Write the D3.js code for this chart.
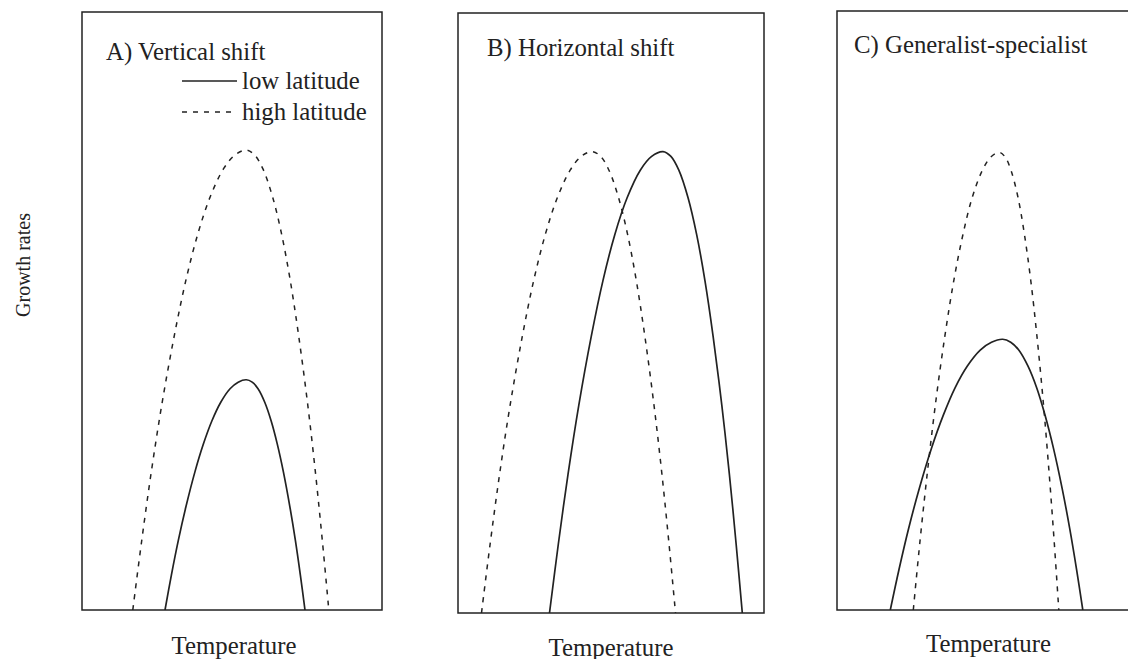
<!DOCTYPE html>
<html>
<head>
<meta charset="utf-8">
<script src="https://cdn.jsdelivr.net/npm/d3@7"></script>
<style>
  body { margin: 0; background: #fff; }
  text { font-family: "Liberation Serif", "Times New Roman", serif; fill: #222; }
</style>
</head>
<body>
<script>
const width = 1128;
const height = 659;

// Panel titles and legend labels
const panelTitles = ["A) Vertical shift", "B) Horizontal shift", "C) Generalist-specialist"];
const seriesLabels = ["low latitude", "high latitude"];

// Curves as [temperature, growth rate] (arbitrary units, 0-100)
const aLow = [[27.67, 0], [29.78, 5.8], [32.09, 11.6], [34.66, 17.3], [37.64, 23.1], [40.43, 27.7],
  [43.28, 31.6], [46.21, 34.7], [49.35, 37.0], [52.06, 38.1], [54.77, 38.5], [56.73, 38.1], [58.68, 37.0],
  [60.95, 34.7], [63.06, 31.6], [65.12, 27.7], [67.13, 23.1], [69.28, 17.3], [71.14, 11.6], [72.8, 5.8],
  [74.33, 0]];
const aHigh = [[16.93, 0], [19.88, 11.5], [23.1, 23.1], [26.69, 34.6], [30.85, 46.1], [34.75, 55.4],
  [38.73, 63.1], [42.81, 69.2], [47.2, 73.8], [50.99, 76.1], [54.77, 76.9], [57.52, 76.1], [60.27, 73.8],
  [63.46, 69.2], [66.43, 63.1], [69.32, 55.4], [72.15, 46.1], [75.18, 34.6], [77.79, 23.1], [80.13, 11.5],
  [82.27, 0]];

const bLow = [[29.9, 0], [32.79, 11.5], [35.95, 23.1], [39.47, 34.6], [43.55, 46.1], [47.37, 55.4],
  [51.26, 63.1], [55.27, 69.2], [59.57, 73.8], [63.28, 76.1], [66.99, 76.9], [69.58, 76.1], [72.17, 73.8],
  [75.18, 69.2], [77.98, 63.1], [80.7, 55.4], [83.37, 46.1], [86.22, 34.6], [88.69, 23.1], [90.89, 11.5],
  [92.91, 0]];
const bHigh = [[7.68, 0], [10.5, 11.5], [13.58, 23.1], [17.02, 34.6], [21.01, 46.1], [24.73, 55.4],
  [28.54, 63.1], [32.45, 69.2], [36.65, 73.8], [40.27, 76.1], [43.89, 76.9], [46.61, 76.1], [49.33, 73.8],
  [52.48, 69.2], [55.42, 63.1], [58.27, 55.4], [61.07, 46.1], [64.06, 34.6], [66.65, 23.1], [68.96, 11.5],
  [71.08, 0]];

const cLow = [[17.59, 0], [20.48, 6.8], [23.64, 13.6], [27.16, 20.3], [31.24, 27.1], [35.06, 32.5],
  [38.96, 37.1], [42.97, 40.7], [47.27, 43.4], [50.98, 44.7], [54.69, 45.2], [57.33, 44.7], [59.98, 43.4],
  [63.04, 40.7], [65.9, 37.1], [68.67, 32.5], [71.39, 27.1], [74.3, 20.3], [76.81, 13.6], [79.06, 6.8],
  [81.12, 0]];
const cHigh = [[25.18, 0], [27.39, 11.5], [29.81, 22.9], [32.5, 34.4], [35.62, 45.8], [38.55, 55.0],
  [41.53, 62.6], [44.59, 68.8], [47.88, 73.3], [50.72, 75.6], [53.56, 76.4], [55.52, 75.6], [57.49, 73.3],
  [59.77, 68.8], [61.89, 62.6], [63.95, 55.0], [65.97, 45.8], [68.13, 34.4], [70.0, 22.9], [71.67, 11.5],
  [73.2, 0]];

const panelLow = [aLow, bLow, cLow];
const panelHigh = [aHigh, bHigh, cHigh];

// Panel boxes in page pixels
const boxes = [
  { x: 82, y: 12, w: 300, h: 598, titleX: 106, titleY: 60, labelY: 654 },
  { x: 458, y: 13, w: 306, h: 600, titleX: 487, titleY: 56, labelY: 656 },
  { x: 837, y: 11, w: 303, h: 599, titleX: 854, titleY: 53, labelY: 652 }
];

const svg = d3.select("body").append("svg").attr("width", width).attr("height", height);

const dash = "5,6";
const fontSize = 24.8;

boxes.forEach((b, i) => {
  const x = d3.scaleLinear().domain([0, 100]).range([b.x, b.x + b.w]);
  const y = d3.scaleLinear().domain([0, 100]).range([b.y + b.h, b.y]);

  const line = d3.line()
    .x((d) => x(d[0]))
    .y((d) => y(d[1]))
    .curve(d3.curveCatmullRom.alpha(0.5));

  svg.append("clipPath").attr("id", "clip" + i)
    .append("rect").attr("x", b.x).attr("y", b.y).attr("width", b.w).attr("height", b.h);

  const g = svg.append("g").attr("clip-path", "url(#clip" + i + ")");

  g.append("path")
    .datum(panelHigh[i])
    .attr("d", line)
    .attr("fill", "none")
    .attr("stroke", "#222")
    .attr("stroke-width", 1.5)
    .attr("stroke-dasharray", dash);

  g.append("path")
    .datum(panelLow[i])
    .attr("d", line)
    .attr("fill", "none")
    .attr("stroke", "#222")
    .attr("stroke-width", 1.7);

  svg.append("rect")
    .attr("x", b.x).attr("y", b.y)
    .attr("width", b.w).attr("height", b.h)
    .attr("fill", "none")
    .attr("stroke", "#222")
    .attr("stroke-width", 1.5);

  svg.append("text")
    .attr("x", b.titleX)
    .attr("y", b.titleY)
    .attr("font-size", fontSize)
    .text(panelTitles[i]);

  svg.append("text")
    .attr("x", x(50) + (i === 0 ? 2 : 0))
    .attr("y", b.labelY)
    .attr("text-anchor", "middle")
    .attr("font-size", fontSize)
    .text("Temperature");
});

// Legend in panel A
const legend = svg.append("g");
[0, 1].forEach((k) => {
  const ly = 81 + k * 31;
  legend.append("line")
    .attr("x1", 182).attr("x2", k === 0 ? 237 : 233)
    .attr("y1", ly).attr("y2", ly)
    .attr("stroke", "#222")
    .attr("stroke-width", k === 0 ? 1.7 : 1.5)
    .attr("stroke-dasharray", k === 0 ? null : dash);
  legend.append("text")
    .attr("x", 242)
    .attr("y", ly + 8)
    .attr("font-size", fontSize)
    .text(seriesLabels[k]);
});

// Shared y-axis title
svg.append("text")
  .attr("transform", "translate(30,265) rotate(-90)")
  .attr("text-anchor", "middle")
  .attr("font-size", 20)
  .text("Growth rates");
</script>
</body>
</html>
